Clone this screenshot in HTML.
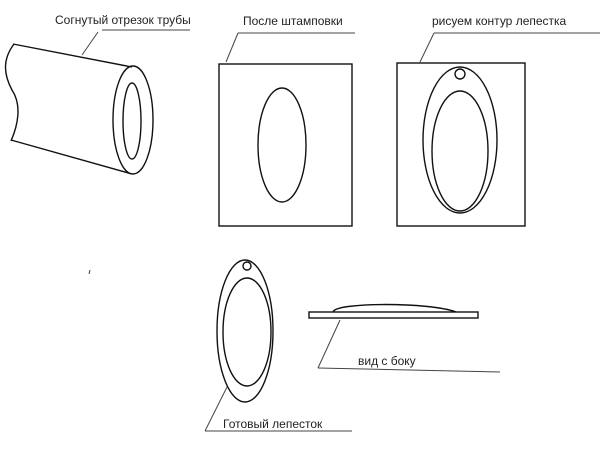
<!DOCTYPE html>
<html><head><meta charset="utf-8"><style>body{margin:0;background:#fff}svg{display:block}text{font-family:"Liberation Sans",sans-serif;font-size:12px;fill:#222}</style></head>
<body>
<svg width="600" height="450" viewBox="0 0 600 450" xmlns="http://www.w3.org/2000/svg">
<g fill="none" stroke="#111" stroke-width="1.4">
<!-- pipe -->
<line x1="13" y1="44" x2="132" y2="67"/>
<line x1="11" y1="140" x2="132" y2="174"/>
<path d="M14,44 C2,60 4,75 12,90 C22,105 18,125 11,141"/>
<ellipse cx="133" cy="120" rx="20" ry="54"/>
<ellipse cx="132" cy="121" rx="9" ry="38"/>
<!-- box 2 -->
<rect x="219" y="64" width="133" height="162"/>
<ellipse cx="282" cy="145" rx="24" ry="57"/>
<!-- box 3 -->
<rect x="397" y="63" width="128" height="163"/>
<ellipse cx="460" cy="140" rx="37" ry="73"/>
<ellipse cx="460" cy="151" rx="28" ry="60"/>
<circle cx="460" cy="74" r="5"/>
<!-- petal -->
<ellipse cx="245" cy="331" rx="28" ry="71"/>
<ellipse cx="247" cy="332" rx="24" ry="54"/>
<circle cx="247" cy="266" r="4"/>
<!-- side view -->
<rect x="309" y="312" width="169" height="6"/>
<path d="M333,312 C335,302 430,302 456,312"/>
</g>
<g stroke="#444" stroke-width="1" fill="none">
<line x1="102" y1="30" x2="190" y2="30"/><line x1="98" y1="32" x2="82" y2="55"/>
<line x1="238" y1="33" x2="355" y2="33"/><line x1="238" y1="33" x2="226" y2="62"/>
<line x1="434" y1="33" x2="600" y2="33"/><line x1="434" y1="33" x2="420" y2="62"/>
<line x1="205" y1="431" x2="352" y2="431"/><line x1="205" y1="431" x2="227" y2="387"/>
<line x1="318" y1="368" x2="500" y2="372"/><line x1="318" y1="368" x2="340" y2="320"/>
<line x1="90" y1="270" x2="89" y2="274"/>
</g>
<text x="55" y="24">Согнутый отрезок трубы</text>
<text x="243" y="25">После штамповки</text>
<text x="432" y="25">рисуем контур лепестка</text>
<text x="223" y="428">Готовый лепесток</text>
<text x="358" y="365">вид с боку</text>
</svg>
</body></html>
